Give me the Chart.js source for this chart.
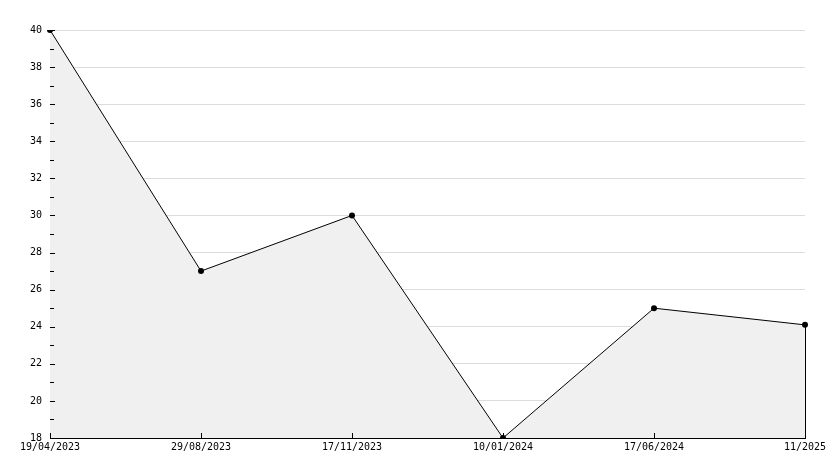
<!DOCTYPE html>
<html>
<head>
<meta charset="utf-8">
<script src="https://cdn.jsdelivr.net/npm/chart.js@4.4.0/dist/chart.umd.min.js"></script>
<style>
  html, body { margin: 0; padding: 0; background: #fff; }
  #wrap { width: 834px; height: 468px; }
</style>
</head>
<body>
<div id="wrap"><canvas id="chart" width="834" height="468"></canvas></div>
<script>
// ===== Data =====
const DATES = ['19/04/2023', '29/08/2023', '17/11/2023', '10/01/2024', '17/06/2024', '11/2025'];
const VALUES = [40, 27, 30, 18, 25, 24.1];
const Y_MIN = 18;
const Y_MAX = 40;
const Y_STEP = 2;

const FONT = { family: "'DejaVu Sans Mono', monospace", size: 10 };

// inward tick marks + right edge of the filled area
const tickMarks = {
    id: 'tickMarks',
    afterDatasetsDraw(chart) {
        const { ctx, chartArea, scales } = chart;
        const y = scales.y, x = scales.x;
        ctx.save();
        ctx.strokeStyle = '#000';
        ctx.lineWidth = 1;
        ctx.beginPath();
        // y major + minor ticks
        for (let v = Y_MIN; v <= Y_MAX; v += 1) {
            const py = Math.round(y.getPixelForValue(v)) + 0.5;
            const len = (v % Y_STEP === 0) ? 5 : 4;
            ctx.moveTo(chartArea.left, py);
            ctx.lineTo(chartArea.left + len, py);
        }
        // x ticks
        DATES.forEach((d, i) => {
            const px = Math.round(x.getPixelForValue(i)) + 0.5;
            ctx.moveTo(px, chartArea.bottom);
            ctx.lineTo(px, chartArea.bottom - 5);
        });
        // closing edge of the area at the last point
        const meta = chart.getDatasetMeta(0);
        const last = meta.data[meta.data.length - 1];
        const lx = Math.round(last.x) + 0.5;
        ctx.moveTo(lx, last.y);
        ctx.lineTo(lx, chartArea.bottom);
        ctx.stroke();
        ctx.restore();
    }
};

new Chart(document.getElementById('chart').getContext('2d'), {
    type: 'line',
    data: {
        labels: DATES,
        datasets: [{
            data: VALUES,
            borderColor: '#000',
            borderWidth: 1,
            backgroundColor: '#f0f0f0',
            fill: 'start',
            tension: 0,
            pointRadius: 3,
            pointBackgroundColor: '#000',
            pointBorderColor: '#000',
            pointBorderWidth: 0
        }]
    },
    options: {
        responsive: false,
        animation: false,
        layout: { padding: { top: 30, right: 29, left: 0, bottom: 0 } },
        plugins: {
            legend: { display: false },
            tooltip: { enabled: false }
        },
        scales: {
            x: {
                type: 'category',
                offset: false,
                grid: { display: false, drawTicks: false },
                border: { display: true, color: '#000', width: 1 },
                ticks: {
                    color: '#000',
                    font: FONT,
                    padding: 3,
                    autoSkip: false,
                    maxRotation: 0,
                    minRotation: 0
                },
                afterFit(scale) { scale.height = 30; }
            },
            y: {
                min: Y_MIN,
                max: Y_MAX,
                grid: { color: '#dcdcdc', drawTicks: false },
                border: { display: true, color: '#000', width: 1 },
                ticks: {
                    stepSize: Y_STEP,
                    color: '#000',
                    font: FONT,
                    padding: 8
                },
                afterFit(scale) { scale.width = 50; }
            }
        }
    },
    plugins: [tickMarks]
});
</script>
</body>
</html>
